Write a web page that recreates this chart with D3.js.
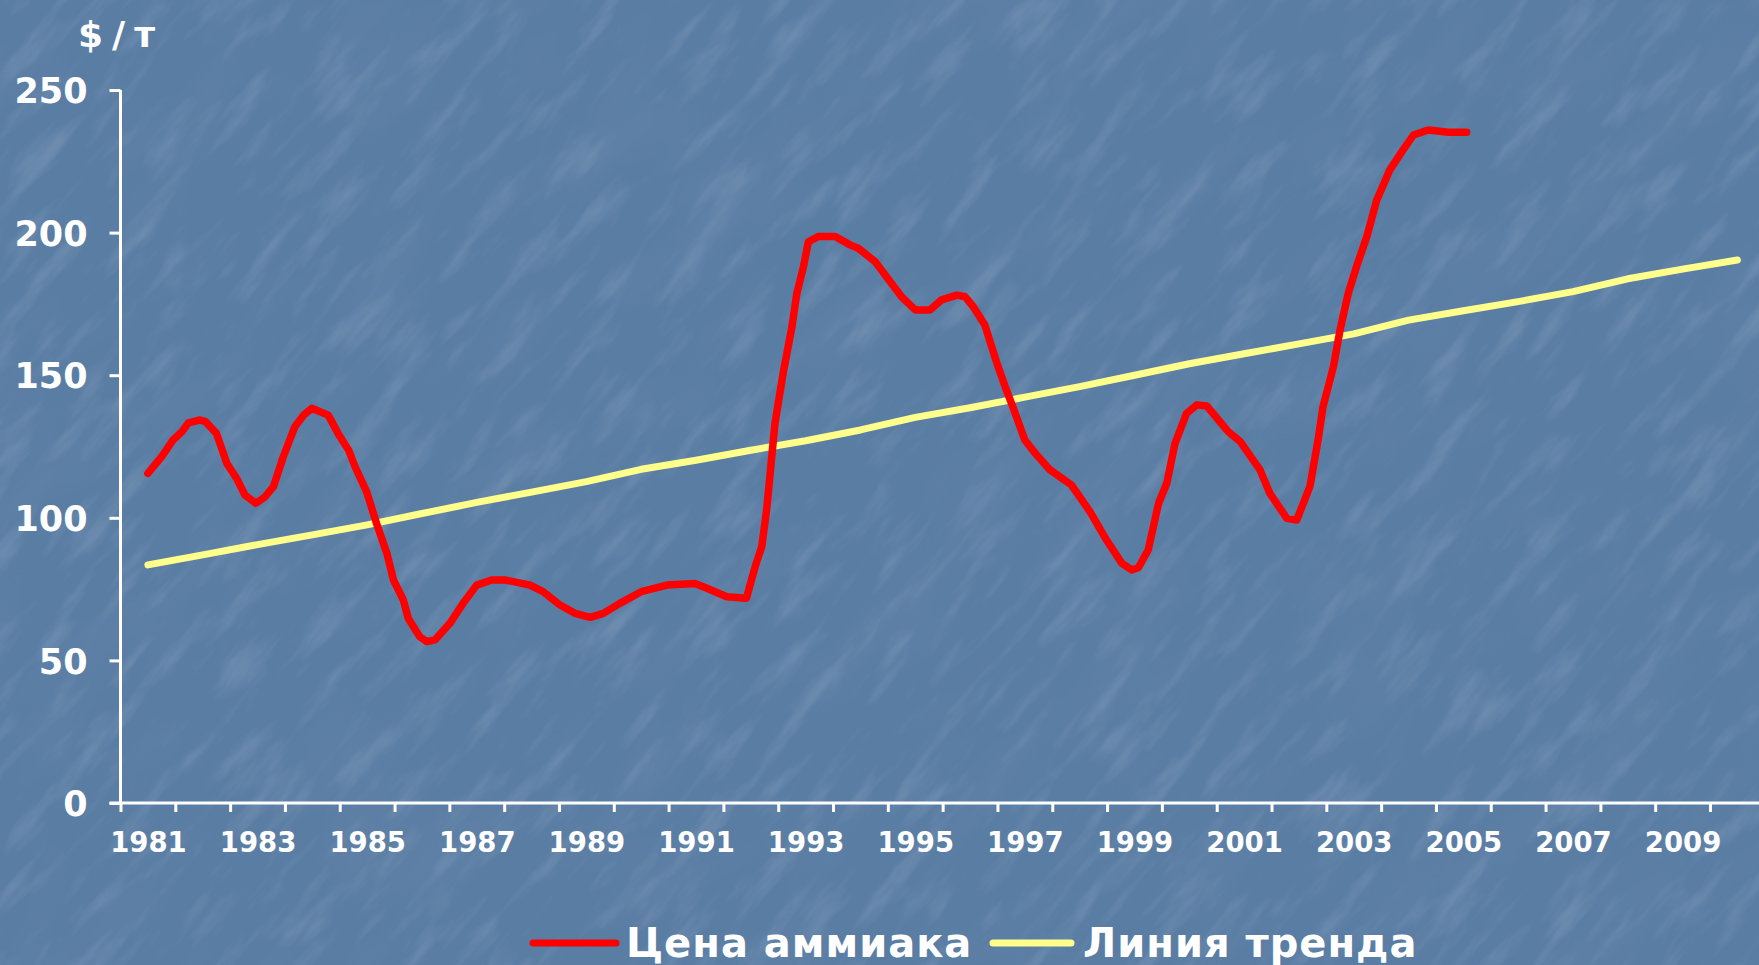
<!DOCTYPE html>
<html>
<head>
<meta charset="utf-8">
<script src="https://cdn.jsdelivr.net/npm/d3@7"></script>
<style>
  html, body { margin: 0; padding: 0; background: #5a7da4; overflow: hidden; }
  svg { display: block; }
  text { font-family: "DejaVu Sans", Verdana, sans-serif; font-weight: bold; fill: #ffffff; }
</style>
</head>
<body>
<svg id="chart" width="1759" height="965"></svg>
<script>
// ---- data ----
const years = d3.range(1981, 2011);               // categories 1981..2010
const yearLabels = d3.range(1981, 2010, 2);       // 1981, 1983, ... 2009
const yTicks = [0, 50, 100, 150, 200, 250];

// Ammonia price, $/t (fractional year positions)
const priceTime = [
  1981.00, 1981.25, 1981.46, 1981.62, 1981.74, 1981.95, 1982.05, 1982.25, 1982.44, 1982.62,
  1982.77, 1982.97, 1983.14, 1983.29, 1983.47, 1983.68, 1983.84, 1983.99, 1984.29, 1984.47,
  1984.66, 1984.78, 1984.99, 1985.17, 1985.36, 1985.48, 1985.66, 1985.75, 1985.96, 1986.09,
  1986.24, 1986.51, 1986.75, 1987.00, 1987.27, 1987.52, 1987.97, 1988.21, 1988.52, 1988.79,
  1989.07, 1989.31, 1989.61, 1990.00, 1990.47, 1990.98, 1991.20, 1991.56, 1991.92, 1992.08,
  1992.20, 1992.29, 1992.44, 1992.59, 1992.75, 1992.84, 1992.96, 1993.05, 1993.23, 1993.54,
  1993.81, 1993.96, 1994.27, 1994.52, 1994.75, 1995.00, 1995.27, 1995.48, 1995.76, 1995.91,
  1996.06, 1996.27, 1996.49, 1996.64, 1996.79, 1997.00, 1997.19, 1997.46, 1997.85, 1998.19,
  1998.49, 1998.77, 1998.95, 1999.07, 1999.25, 1999.44, 1999.59, 1999.74, 1999.95, 2000.14,
  2000.32, 2000.71, 2000.93, 2001.29, 2001.47, 2001.78, 2001.96, 2002.20, 2002.35, 2002.44,
  2002.63, 2002.75, 2002.90, 2003.05, 2003.24, 2003.42, 2003.66, 2003.90, 2004.09, 2004.36,
  2004.73, 2005.06
];
const priceValue = [
  115.6, 121.4, 127.3, 130.2, 133.3, 134.3, 133.7, 129.6, 119.1, 113.8,
  108.0, 105.1, 107.4, 110.9, 121.4, 131.9, 136.0, 138.4, 136.0, 129.6,
  123.8, 117.9, 109.2, 98.1, 87.6, 78.2, 71.2, 64.8, 58.3, 56.6,
  57.2, 63.0, 70.0, 76.4, 78.2, 78.2, 76.4, 74.1, 69.4, 66.5,
  65.1, 66.5, 70.0, 74.1, 76.4, 77.0, 75.3, 72.3, 71.8, 82.9,
  89.9, 103.0, 133.0, 150.7, 167.0, 178.7, 188.0, 196.8, 198.6, 198.6,
  195.7, 194.5, 189.8, 183.4, 177.5, 172.9, 172.9, 176.4, 178.1, 177.5,
  174.0, 167.6, 154.2, 146.0, 138.4, 127.3, 122.6, 116.8, 111.5, 102.1,
  92.2, 84.0, 81.7, 82.5, 88.7, 105.1, 112.1, 126.1, 136.6, 139.6,
  139.2, 130.2, 126.7, 116.8, 108.6, 99.8, 99.2, 110.9, 127.3, 139.0,
  153.0, 165.8, 178.7, 188.0, 198.6, 211.4, 222.0, 229.0, 234.2, 236.0,
  235.2, 235.2
];

// Trend line, one value per year 1981..2010
const trendValue = [
  83.5, 87.0, 90.6, 94.0, 97.5, 101.5, 105.4, 109.0, 112.7, 117.0,
  120.2, 123.7, 127.0, 130.8, 135.2, 138.6, 142.3, 146.0, 150.0, 154.0,
  157.5, 161.0, 164.5, 169.3, 172.6, 175.8, 179.3, 183.8, 187.2, 190.4
];

const seriesNames = ["Цена аммиака", "Линия тренда"];
const seriesColors = ["#ff0000", "#ffff8c"];
const yUnit = "$/т";

// ---- layout ----
const svg = d3.select("#chart");
const W = 1759, H = 965;

// background texture
const defs = svg.append("defs");
const f = defs.append("filter").attr("id", "tex")
  .attr("x", 0).attr("y", 0).attr("width", "100%").attr("height", "100%");
f.append("feTurbulence").attr("type", "fractalNoise")
  .attr("baseFrequency", "0.012 0.05").attr("numOctaves", 5).attr("seed", 11);
f.append("feColorMatrix").attr("type", "matrix")
  .attr("values", "0 0 0 0 1  0 0 0 0 1  0 0 0 0 1  0 0 0 2.6 -1.3");

svg.append("rect").attr("width", W).attr("height", H).attr("fill", "#5a7da4");
svg.append("g").attr("transform", `translate(${W/2},${H/2}) rotate(-50)`)
  .append("rect").attr("x", -1400).attr("y", -1400).attr("width", 2800).attr("height", 2800)
  .attr("filter", "url(#tex)").attr("opacity", 0.11);
const dark = defs.append("filter").attr("id", "tex2")
  .attr("x", 0).attr("y", 0).attr("width", "100%").attr("height", "100%");
dark.append("feTurbulence").attr("type", "fractalNoise")
  .attr("baseFrequency", "0.006 0.015").attr("numOctaves", 3).attr("seed", 3);
dark.append("feColorMatrix").attr("type", "matrix")
  .attr("values", "0 0 0 0 0.2  0 0 0 0 0.3  0 0 0 0 0.45  0 0 0 2 -0.9");
svg.append("g").attr("transform", `translate(${W/2},${H/2}) rotate(-45)`)
  .append("rect").attr("x", -1400).attr("y", -1400).attr("width", 2800).attr("height", 2800)
  .attr("filter", "url(#tex2)").attr("opacity", 0.18);

// scales
const x = d3.scaleLinear().domain([1980.5, 2010.5]).range([120.5, 1764.8]);
const y = d3.scaleLinear().domain([0, 250]).range([803, 90]);

const axisColor = "#ffffff";

// y axis
const gy = svg.append("g").attr("transform", `translate(${x(1980.5)},0)`)
  .call(d3.axisLeft(y).tickValues(yTicks).tickSize(11).tickPadding(22).tickFormat(d3.format("d")));
gy.select(".domain").attr("stroke", axisColor).attr("stroke-width", 3).attr("d", `M0,${y(250)}V${y(0)}`);
gy.selectAll(".tick line").attr("stroke", axisColor).attr("stroke-width", 3);
gy.selectAll(".tick text").attr("font-size", 35).attr("fill", "#fff")
  .attr("font-family", "DejaVu Sans").attr("font-weight", "bold").attr("dy", "0.36em");

// x axis: tick marks on category boundaries
const boundaries = d3.range(1980.5, 2011, 1);
const gx = svg.append("g").attr("transform", `translate(0,${y(0)})`)
  .call(d3.axisBottom(x).tickValues(boundaries).tickSize(9).tickFormat(""));
gx.select(".domain").attr("stroke", axisColor).attr("stroke-width", 3)
  .attr("d", `M${x(1980.5) - 11},0H${W + 10}`);
gx.selectAll(".tick line").attr("stroke", axisColor).attr("stroke-width", 3);

// x labels at category centres
const gxl = svg.append("g").attr("transform", `translate(0,${y(0)})`)
  .call(d3.axisBottom(x).tickValues(yearLabels).tickSize(0).tickFormat(d3.format("d")));
gxl.select(".domain").remove();
gxl.selectAll(".tick text").attr("font-size", 27.5).attr("fill", "#fff")
  .attr("font-family", "DejaVu Sans").attr("font-weight", "bold")
  .attr("dy", null).attr("y", 49);

// unit label
svg.append("text").attr("x", 78).attr("y", 47).attr("font-size", 36)
  .attr("letter-spacing", 9).text(yUnit);

// lines
const line = d3.line().x(d => x(d[0])).y(d => y(d[1])).curve(d3.curveLinear);

const trendData = years.map((yr, i) => [yr, trendValue[i]]);
svg.append("path").datum(trendData).attr("d", line)
  .attr("fill", "none").attr("stroke", seriesColors[1]).attr("stroke-width", 7)
  .attr("stroke-linecap", "round").attr("stroke-linejoin", "round");

const priceData = priceTime.map((t, i) => [t, priceValue[i]]);
svg.append("path").datum(priceData).attr("d", line)
  .attr("fill", "none").attr("stroke", seriesColors[0]).attr("stroke-width", 7.5)
  .attr("stroke-linecap", "round").attr("stroke-linejoin", "round");

// legend
const legend = [
  { x1: 533, x2: 616, tx: 626 },
  { x1: 993, x2: 1071, tx: 1083 }
];
legend.forEach((l, i) => {
  svg.append("line").attr("x1", l.x1).attr("x2", l.x2).attr("y1", 943).attr("y2", 943)
    .attr("stroke", seriesColors[i]).attr("stroke-width", 7).attr("stroke-linecap", "round");
  svg.append("text").attr("x", l.tx).attr("y", 957).attr("font-size", 40)
    .attr("letter-spacing", 1).text(seriesNames[i]);
});
</script>
</body>
</html>
